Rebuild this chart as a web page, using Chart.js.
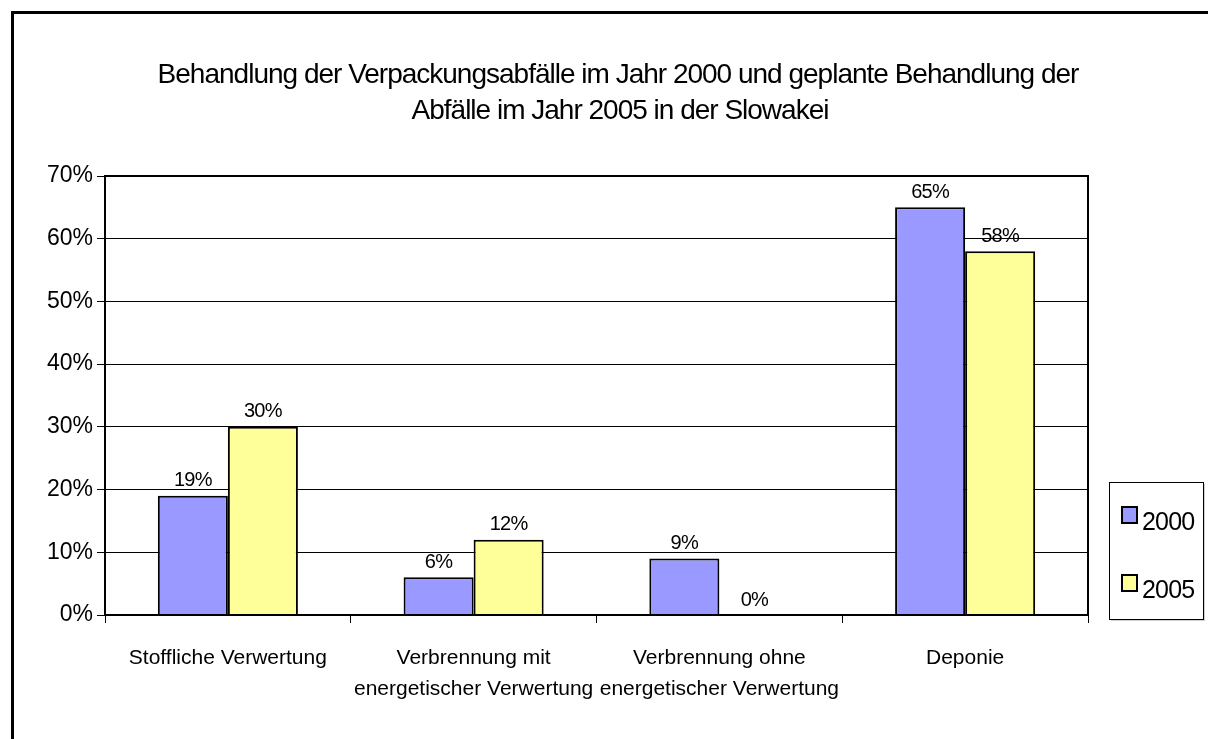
<!DOCTYPE html>
<html>
<head>
<meta charset="utf-8">
<script src="https://cdn.jsdelivr.net/npm/chart.js@4"></script>
<style>
  html, body { margin: 0; padding: 0; background: #fff; }
  #wrap { width: 1208px; height: 739px; position: relative; }
</style>
</head>
<body>
<div id="wrap"><canvas id="c" width="1208" height="739"></canvas></div>
<script>
const titleLines = [
  "Behandlung der Verpackungsabfälle im Jahr 2000 und geplante Behandlung der",
  "Abfälle im Jahr 2005 in der Slowakei"
];
const categories = [
  "Stoffliche Verwertung",
  ["Verbrennung mit", "energetischer Verwertung"],
  ["Verbrennung ohne", "energetischer Verwertung"],
  "Deponie"
];
const values2000 = [19, 6, 9, 65];
const values2005 = [30, 12, 0, 58];
const seriesNames = ["2000", "2005"];

const FONT = "'Liberation Sans', Arial, sans-serif";

// frame, title, plot border, value labels, legend
const decor = {
  id: "decor",
  beforeDraw(chart) {
    const ctx = chart.ctx;
    ctx.save();
    ctx.fillStyle = "#fff";
    ctx.fillRect(0, 0, chart.width, chart.height);
    ctx.strokeStyle = "#000";
    ctx.lineWidth = 3;
    ctx.strokeRect(12.5, 12.5, 1400, 1000);
    ctx.restore();
  },
  afterDraw(chart) {
    const ctx = chart.ctx;
    const a = chart.chartArea;
    ctx.save();
    // title, squeezed a bit like the original
    ctx.fillStyle = "#000";
    ctx.font = "28px " + FONT;
    ctx.textAlign = "center";
    ctx.textBaseline = "middle";
    ctx.letterSpacing = "-1px";
    ctx.fillText(titleLines[0], 618, 75);
    ctx.fillText(titleLines[1], 620, 111);

    // plot area border
    ctx.strokeStyle = "#000";
    ctx.lineWidth = 2;
    ctx.strokeRect(a.left, a.top, a.right - a.left, a.bottom - a.top);

    // value labels
    ctx.font = "20px " + FONT;
    ctx.letterSpacing = "-0.7px";
    chart.data.datasets.forEach((ds, i) => {
      chart.getDatasetMeta(i).data.forEach((bar, j) => {
        ctx.fillText(ds.data[j] + "%", bar.x, bar.y - 15);
      });
    });

    // legend
    const lx = 1109, ly = 482, lw = 94, lh = 137;
    ctx.fillStyle = "#d0d0d0";
    ctx.fillRect(lx + 2, ly + 2, lw, lh);
    ctx.fillStyle = "#fff";
    ctx.fillRect(lx, ly, lw, lh);
    ctx.strokeStyle = "#000";
    ctx.lineWidth = 1;
    ctx.strokeRect(lx + 0.5, ly + 0.5, lw, lh);
    ctx.font = "25px " + FONT;
    ctx.textAlign = "left";
    ctx.textBaseline = "alphabetic";
    ctx.letterSpacing = "-0.8px";
    chart.data.datasets.forEach((ds, i) => {
      const sy = 507 + i * 68;
      ctx.fillStyle = ds.backgroundColor;
      ctx.fillRect(1122, sy, 15, 16);
      ctx.lineWidth = 2;
      ctx.strokeRect(1122, sy, 15, 16);
      ctx.fillStyle = "#000";
      ctx.fillText(ds.label, 1142, sy + 23);
    });
    ctx.restore();
  }
};

new Chart(document.getElementById("c").getContext("2d"), {
  type: "bar",
  data: {
    labels: categories,
    datasets: [
      {
        label: seriesNames[0],
        data: values2000,
        backgroundColor: "#9999ff",
        borderColor: "#000",
        borderWidth: 2,
        barPercentage: 1,
        categoryPercentage: 0.57
      },
      {
        label: seriesNames[1],
        data: values2005,
        backgroundColor: "#ffff99",
        borderColor: "#000",
        borderWidth: 2,
        barPercentage: 1,
        categoryPercentage: 0.57
      }
    ]
  },
  options: {
    responsive: false,
    animation: false,
    layout: { padding: { top: 176, left: 10, right: 120, bottom: 0 } },
    plugins: {
      legend: { display: false },
      title: { display: false },
      tooltip: { enabled: false }
    },
    scales: {
      y: {
        min: 0,
        max: 70,
        ticks: {
          stepSize: 10,
          color: "#000",
          padding: 4,
          font: { family: FONT, size: 23 },
          callback: (v) => v + "%"
        },
        grid: { color: "#000", lineWidth: 1, tickLength: 8 },
        border: { color: "#000", width: 2 },
        afterFit: (s) => { s.width = 95; }
      },
      x: {
        ticks: {
          color: "#000",
          padding: 19,
          maxRotation: 0,
          autoSkip: false,
          font: { family: FONT, size: 21, lineHeight: 1.5 }
        },
        grid: { drawOnChartArea: false, color: "#000", tickLength: 8 },
        border: { color: "#000", width: 2 },
        afterFit: (s) => { s.height = 124; }
      }
    }
  },
  plugins: [decor]
});
</script>
</body>
</html>
